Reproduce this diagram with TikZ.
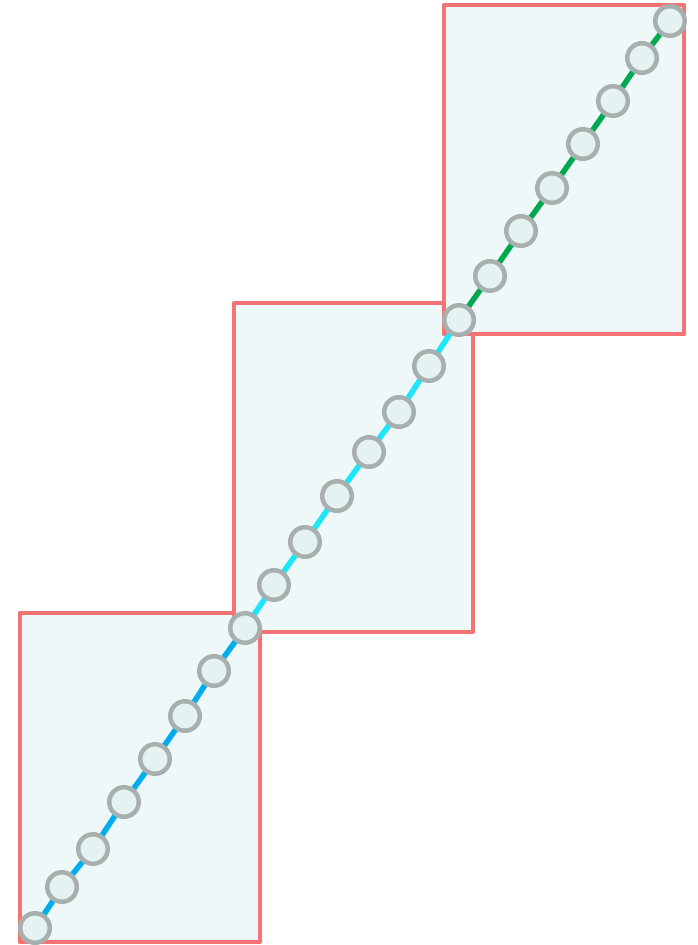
\documentclass[tikz,border=0pt]{standalone}
\usepackage{tikz}
\definecolor{boxred}{HTML}{F47374}
\definecolor{boxfill}{HTML}{EFF8F8}
\definecolor{dotfill}{HTML}{E4F2F2}
\definecolor{dotgray}{HTML}{A7B0AE}
\definecolor{lineblue}{HTML}{00ADEF}
\definecolor{linecyan}{HTML}{1DE6FA}
\definecolor{linegreen}{HTML}{00A84F}
\tikzset{
  panel/.style={draw=boxred, fill=boxfill, line width=4.5pt, line join=round},
  dot/.style={circle, draw=dotgray, fill=dotfill, line width=4.5pt, minimum size=29.5pt, inner sep=0pt},
  linkb/.style={draw=lineblue, line width=5.5pt},
  linkc/.style={draw=linecyan, line width=5.5pt},
  linkg/.style={draw=linegreen, line width=5.5pt}
}
\begin{document}
\begin{tikzpicture}[x=1pt,y=-1pt]
\useasboundingbox (0,0) rectangle (698,945);
% panels: bottom, middle, top
\path[panel] (20,613) rectangle (260,942);
\path[panel] (234,303) rectangle (473,632);
\path[panel] (444,5) rectangle (684,334);
% dot positions
\foreach \i/\x/\y in {0/35/928,1/62/887,2/93/849,3/124/802,4/155/759,5/185/716,6/214/671,7/245/628,
  8/274/585,9/305/542,10/337/496,11/369/452,12/399/412,13/429/366,14/459/320,
  15/490/276,16/521/231,17/552/188,18/583/144,19/613/101,20/642/58,21/670/21}
  {\coordinate (p\i) at (\x,\y);}
\foreach \a/\b in {0/1,1/2,2/3,3/4,4/5,5/6,6/7} {\draw[linkb] (p\a) -- (p\b);}
\foreach \a/\b in {7/8,8/9,9/10,10/11,11/12,12/13,13/14} {\draw[linkc] (p\a) -- (p\b);}
\foreach \a/\b in {14/15,15/16,16/17,17/18,18/19,19/20,20/21} {\draw[linkg] (p\a) -- (p\b);}
\foreach \i in {0,...,21} {\node[dot] (c\i) at (p\i) {};}
\end{tikzpicture}
\end{document}
